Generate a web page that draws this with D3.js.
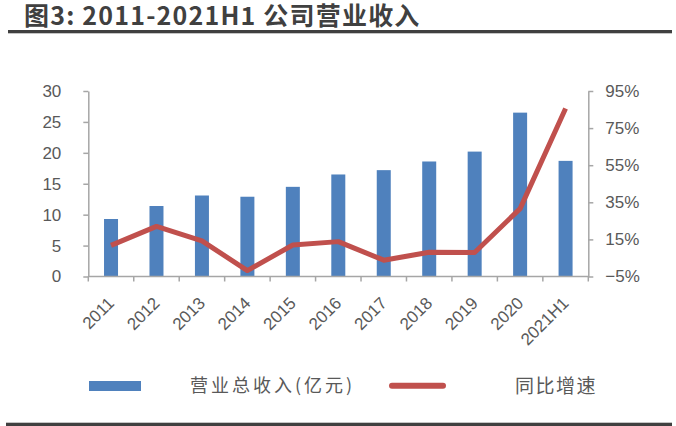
<!DOCTYPE html>
<html>
<head>
<meta charset="utf-8">
<script src="https://cdn.jsdelivr.net/npm/d3@7/dist/d3.min.js"></script>
<style>
  html, body { margin: 0; padding: 0; background: #fff; }
  svg { display: block; }
</style>
</head>
<body>
<div id="chart"></div>
<script>
// revenue (100m yuan) and yoy growth (%)
var years = ["2011","2012","2013","2014","2015","2016","2017","2018","2019","2020","2021H1"];
var revenue = [9.3, 11.4, 13.1, 12.9, 14.5, 16.5, 17.2, 18.6, 20.2, 26.5, 18.7];
var growth = [11.8, 22.0, 14.2, -1.8, 12.0, 13.8, 3.8, 8.1, 7.9, 31.6, 85.6];
var leftTicks = [0, 5, 10, 15, 20, 25, 30];
var rightTicks = [-5, 15, 35, 55, 75, 95];

var W = 676, H = 426;
var blue = "#4f81bd", red = "#c0504d", axisGrey = "#a6a6a6", textGrey = "#595959";
var numFont = "'Liberation Sans', Arial, sans-serif";
var cjkFont = "'Noto Sans CJK SC', sans-serif";

var svg = d3.select("#chart").append("svg")
	.attr("width", W).attr("height", H);

svg.append("rect").attr("width", W).attr("height", H).attr("fill", "#fff");

// title and rules
svg.append("text")
	.attr("x", 24).attr("y", 24.5)
	.attr("font-family", cjkFont)
	.attr("font-weight", 700)
	.attr("font-size", 25)
	.attr("letter-spacing", 1.2)
	.attr("fill", "#404040")
	.text("图3: 2011-2021H1 公司营业收入");
svg.append("rect").attr("x", 8).attr("y", 30).attr("width", 664).attr("height", 3.3).attr("fill", "#404040");
svg.append("rect").attr("x", 6).attr("y", 422.7).attr("width", 666).attr("height", 3.3).attr("fill", "#404040");

var x = d3.scaleBand().domain(years).range([88.3, 588.3]).padding(0);
var y0 = d3.scaleLinear().domain([0, 30]).range([276.5, 91]);
var y1 = d3.scaleLinear().domain([-5, 95]).range([276.5, 91]);
var barW = 14;

// bars
svg.append("g").selectAll("rect")
	.data(years)
	.enter().append("rect")
	  .attr("x", function(d) { return x(d) + x.bandwidth() / 2 - barW / 2; })
	  .attr("y", function(d, i) { return y0(revenue[i]); })
	  .attr("width", barW)
	  .attr("height", function(d, i) { return y0(0) - y0(revenue[i]); })
	  .attr("fill", blue);

function styleAxis(g) {
	g.select(".domain").attr("stroke", axisGrey).attr("stroke-width", 1.5);
	g.selectAll(".tick line").attr("stroke", axisGrey).attr("stroke-width", 1.5);
	g.selectAll(".tick text")
		.attr("fill", textGrey)
		.attr("font-family", numFont)
		.attr("font-size", 17);
}

// left axis
svg.append("g")
	.attr("transform", "translate(" + x.range()[0] + ",0)")
	.call(d3.axisLeft(y0).tickValues(leftTicks).tickSize(5).tickSizeOuter(0).tickPadding(22))
	.call(styleAxis);

// right axis
svg.append("g")
	.attr("transform", "translate(" + x.range()[1] + ",0)")
	.call(d3.axisRight(y1).tickValues(rightTicks).tickSize(5).tickSizeOuter(0).tickPadding(12)
		.tickFormat(function(d) { return (d < 0 ? "\u2212" + (-d) : d) + "%"; }))
	.call(styleAxis);

// bottom axis: ticks sit on the band edges
var bottom = svg.append("g").attr("transform", "translate(0," + y0(0) + ")");
bottom.append("line")
	.attr("x1", x.range()[0]).attr("x2", x.range()[1])
	.attr("stroke", axisGrey).attr("stroke-width", 1.5);
var edges = years.map(function(d) { return x(d); }).concat([x.range()[1]]);
bottom.selectAll(".edge")
	.data(edges)
	.enter().append("line")
	  .attr("class", "edge")
	  .attr("x1", function(d) { return d; }).attr("x2", function(d) { return d; })
	  .attr("y1", 0).attr("y2", 5)
	  .attr("stroke", axisGrey).attr("stroke-width", 1.5);
bottom.selectAll(".lbl")
	.data(years)
	.enter().append("text")
	  .attr("class", "lbl")
	  .attr("transform", function(d) { return "translate(" + (x(d) + x.bandwidth() / 2) + ",23.5) rotate(-45)"; })
	  .attr("text-anchor", "end")
	  .attr("dy", "0.35em")
	  .attr("fill", textGrey)
	  .attr("font-family", numFont)
	  .attr("font-size", 17)
	  .text(function(d) { return d; });

// growth line
var line = d3.line()
	.x(function(d, i) { return x(years[i]) + x.bandwidth() / 2; })
	.y(function(d) { return y1(d); });
svg.append("path")
	.datum(growth)
	.attr("d", line)
	.attr("fill", "none")
	.attr("stroke", red)
	.attr("stroke-width", 5)
	.attr("stroke-linejoin", "round");

// legend
var legend = svg.append("g");
legend.append("rect")
	.attr("x", 89).attr("y", 381).attr("width", 52).attr("height", 10)
	.attr("fill", blue);
legend.append("text")
	.attr("x", 190).attr("y", 386).attr("dy", "0.35em")
	.attr("font-family", cjkFont).attr("font-size", 18)
	.attr("letter-spacing", 3)
	.attr("fill", textGrey)
	.text("营业总收入(亿元)");
legend.append("line")
	.attr("x1", 392).attr("x2", 443).attr("y1", 385.7).attr("y2", 385.7)
	.attr("stroke", red).attr("stroke-width", 6).attr("stroke-linecap", "round");
legend.append("text")
	.attr("x", 515).attr("y", 386).attr("dy", "0.35em")
	.attr("font-family", cjkFont).attr("font-size", 19)
	.attr("letter-spacing", 1.5)
	.attr("fill", textGrey)
	.text("同比增速");
</script>
</body>
</html>
